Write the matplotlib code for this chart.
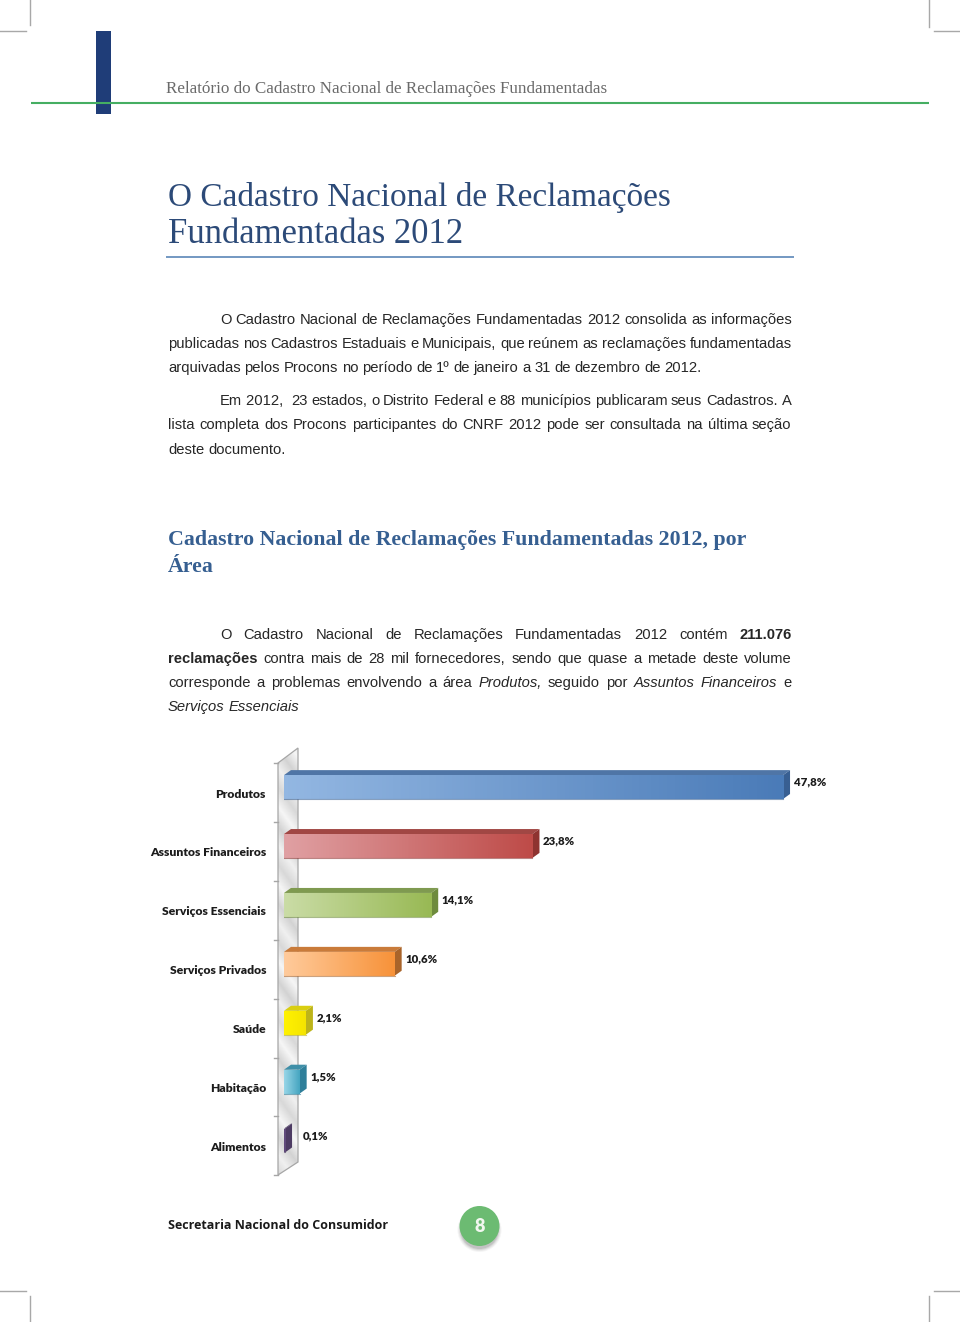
import numpy as np
import matplotlib
matplotlib.use('Agg')
import matplotlib.pyplot as plt
from matplotlib.colors import LinearSegmentedColormap
from matplotlib.patches import Circle, Polygon, Rectangle
from matplotlib.transforms import ScaledTranslation

# dados do grafico
categorias = ['Produtos', 'Assuntos Financeiros', 'Serviços Essenciais', 'Serviços Privados',
              'Saúde', 'Habitação', 'Alimentos']
valores = [47.8, 23.8, 14.1, 10.6, 2.1, 1.5, 0.1]

cores_claras = ['#93B7E2', '#E0A0A3', '#CADCA6', '#FFCB9C', '#FFF200', '#98D6E8', '#604A7B']
cores_escuras = ['#4A7BB8', '#BE4B48', '#98B954', '#F79239', '#F5E400', '#45A5C0', '#604A7B']
cores_topo = ['#4F75A6', '#A14744', '#7F9A50', '#C97B3A', '#D9CE10', '#3F8FA8', '#4D3B63']
cores_lado = ['#385F92', '#8E3330', '#6E8B3D', '#A9642A', '#BDB41A', '#2F7F9A', '#4D3B63']

titulo = ['O Cadastro Nacional de Reclamações', 'Fundamentadas 2012']
subtitulo = ['Cadastro Nacional de Reclamações Fundamentadas 2012, por', 'Área']
cabecalho = 'Relatório do Cadastro Nacional de Reclamações Fundamentadas'
rodape = 'Secretaria Nacional do Consumidor'

# (texto, x inicial, baseline, justificar)
paragrafos = [
    ('O Cadastro Nacional de Reclamações Fundamentadas 2012 consolida as informações', 220, 324, True),
    ('publicadas nos Cadastros Estaduais e Municipais, que reúnem as reclamações fundamentadas', 168, 348, True),
    ('arquivadas pelos Procons no período de 1º de janeiro a 31 de dezembro de 2012.', 168, 372, True),
    ('Em 2012,\u00a0 23 estados, o Distrito Federal e 88 municípios publicaram seus Cadastros. A', 220, 405, True),
    ('lista completa dos Procons participantes do CNRF 2012 pode ser consultada na última seção', 168, 429, True),
    ('deste documento.', 168, 454, False),
    ('O Cadastro Nacional de Reclamações Fundamentadas 2012 contém *211.076', 220, 639, True),
    ('*reclamações contra mais de 28 mil fornecedores, sendo que quase a metade deste volume', 168, 663, True),
    ('corresponde a problemas envolvendo a área _Produtos, seguido por _Assuntos _Financeiros e', 168, 687, True),
    ('_Serviços _Essenciais', 168, 711, False),
]
# fim real das linhas que nao vao ate a margem
fim_linha = {2: 701.5}

px_por_unidade = 10.44
px = 100.0

fig = plt.figure(figsize=(9.6, 13.22), dpi=100)
pag = fig.add_axes([0, 0, 1, 1])
pag.set_xlim(0, 960)
pag.set_ylim(1322, 0)
pag.axis('off')
renderer = fig.canvas.get_renderer()


def ajusta(t, largura):
    w = t.get_window_extent(renderer).width
    t.set_fontsize(t.get_fontsize() * largura / w)


# marcas de corte
for x, y0, y1 in [(30, 0, 25), (929, 0, 27), (30, 1296, 1322), (929, 1296, 1322)]:
    pag.plot([x, x], [y0, y1], color='#a8a8a8', lw=1)
for y, x0, x1 in [(31, 0, 26), (31, 934, 960), (1291, 0, 26), (1291, 934, 960)]:
    pag.plot([x0, x1], [y, y], color='#a8a8a8', lw=1)

# cabecalho
pag.add_patch(Rectangle((96, 31), 15, 83, color='#1F3D78', lw=0))
pag.plot([31, 929], [102.5, 102.5], color='#45AE62', lw=1.5, solid_capstyle='butt')
t = pag.text(166, 93, cabecalho, family='Liberation Serif', fontsize=11.5, color='#6a6a6a')
ajusta(t, 440)

# titulos
t = pag.text(168, 206, titulo[0], family='Liberation Serif', fontsize=24, color='#2C4A78')
ajusta(t, 502)
t = pag.text(168, 243, titulo[1], family='Liberation Serif', fontsize=24, color='#2C4A78')
ajusta(t, 296)
pag.plot([166, 794], [256.5, 256.5], color='#5B86B8', lw=1.2, solid_capstyle='butt')

t = pag.text(168, 545, subtitulo[0], family='Liberation Serif', fontsize=15, weight='bold', color='#365F91')
ajusta(t, 578)
tam = t.get_fontsize()
pag.text(168, 572, subtitulo[1], family='Liberation Serif', fontsize=tam, weight='bold', color='#365F91')

# texto justificado, palavra por palavra
for n, (linha, x0, y, justifica) in enumerate(paragrafos):
    palavras = []
    larguras = []
    for p in linha.split(' '):
        if not p:
            continue
        peso, estilo = 'normal', 'normal'
        if p[0] == '*':
            peso, p = 'bold', p[1:]
        elif p[0] == '_':
            estilo, p = 'italic', p[1:]
        t = pag.text(x0, y, p, family='Liberation Sans', fontsize=10.6, weight=peso, style=estilo, color='#262626')
        palavras.append(t)
        larguras.append(t.get_window_extent(renderer).width)
    if justifica:
        espaco = (fim_linha.get(n, 791.5) - x0 - sum(larguras)) / (len(palavras) - 1)
    else:
        espaco = 4.1
    x = x0
    for t, w in zip(palavras, larguras):
        t.set_x(x)
        x += w + espaco

# parede do grafico
cantos = [(278, 763), (298, 748), (298, 1162), (278, 1175)]
pag.add_patch(Polygon(cantos, closed=True, facecolor='none', edgecolor='#a6a6a6', lw=0.9, zorder=3))
cm_parede = LinearSegmentedColormap.from_list('parede', ['#d2d2d2', '#f0f0f0', '#d8d8d8', '#f6f6f6', '#d4d4d4'])
yy, xx = np.mgrid[0:1:300j, 0:1:30j]
img = pag.imshow((yy * 5.5 - xx * 0.35) % 1, extent=(278, 298, 1175, 748), cmap=cm_parede,
                 aspect='auto', zorder=2)
img.set_clip_path(Polygon(cantos, transform=pag.transData))
pag.set_xlim(0, 960)
pag.set_ylim(1322, 0)
for i in range(len(categorias) + 1):
    y = 763 + i * 58.9
    pag.plot([274, 278], [y, y], color='#a6a6a6', lw=1, zorder=3)

# grafico de barras
esq, dir_ = 284, 284 + 60 * px_por_unidade
topo, base = 757.6, 1170.0
ax = fig.add_axes([esq / 960, 1 - base / 1322, (dir_ - esq) / 960, (base - topo) / 1322])
ax.patch.set_alpha(0)
ax.set_xlim(0, 60)
ax.set_ylim(6.5, -0.5)
for s in ax.spines.values():
    s.set_visible(False)
ax.set_xticks([])
ax.set_yticks(range(len(categorias)))
ax.set_yticklabels(categorias, family='Lato', weight='heavy', fontsize=8.7, color='#1c1c1c')
ax.tick_params(axis='y', length=0, pad=18 * 0.72)
for lab in ax.get_yticklabels():
    lab.set_transform(lab.get_transform() + ScaledTranslation(0, -6 / px, fig.dpi_scale_trans))

altura = 0.405
dx = 7 / px_por_unidade
dy = 5 / 58.9
barras = ax.barh(range(len(valores)), valores, height=altura, color=cores_escuras, zorder=2)
for i, (v, barra) in enumerate(zip(valores, barras)):
    y0, y1 = i - altura / 2, i + altura / 2
    ax.add_patch(Polygon([(0, y0), (dx, y0 - dy), (v + dx, y0 - dy), (v, y0)], color=cores_topo[i], lw=0, zorder=2))
    ax.add_patch(Polygon([(v, y0), (v + dx, y0 - dy), (v + dx, y1 - dy), (v, y1)], color=cores_lado[i], lw=0, zorder=2))
    cm = LinearSegmentedColormap.from_list('b', [cores_claras[i], cores_escuras[i]])
    g = ax.imshow(np.linspace(0, 1, 128).reshape(1, -1), extent=(0, v, y1, y0), cmap=cm, aspect='auto', zorder=3)
    g.set_clip_path(barra)
    ax.plot([0, v], [y1, y1], color=cores_lado[i], lw=0.8, alpha=0.6, zorder=4)
    folga = 11 if v < 1 else 3.5
    ax.annotate(f'{v:.1f}'.replace('.', ',') + '%', (v + dx, i), xytext=(folga * 0.72, 5 * 0.72),
                textcoords='offset points', family='Lato', weight='heavy', fontsize=8.2,
                color='#1c1c1c', va='center', ha='left')
ax.set_xlim(0, 60)
ax.set_ylim(6.5, -0.5)

# rodape
t = pag.text(168, 1229, rodape, family='Open Sans', weight='bold', fontsize=9.5, color='#1a1a1a')
ajusta(t, 222)
for r, a in [(22, 0.05), (21, 0.07), (20, 0.10), (19, 0.14)]:
    pag.add_patch(Circle((479.5, 1230), r, color='#444444', alpha=a, lw=0, zorder=4))
pag.add_patch(Circle((479.5, 1226), 20, color='#6CBB72', lw=0, zorder=5))
pag.text(479.5, 1227, '8', family='Lato', weight='heavy', fontsize=13, color='#f2f7f0', ha='center', va='center', zorder=6)

plt.savefig('out.png', dpi=100)
plt.close()
